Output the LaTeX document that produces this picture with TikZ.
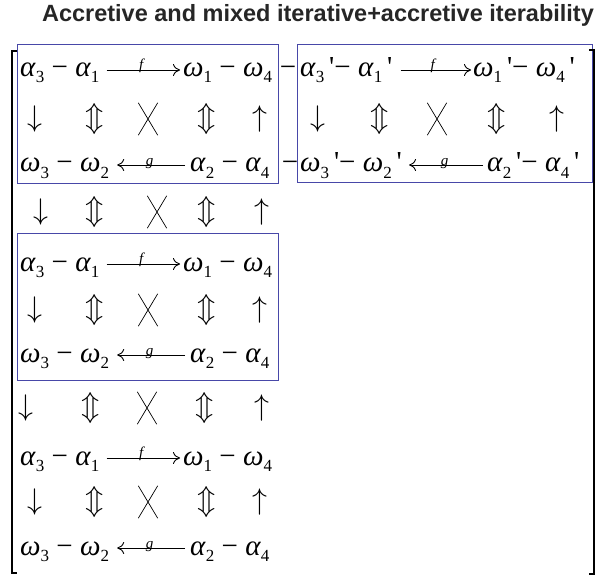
\documentclass[tikz,border=0pt]{standalone}
\usepackage{fontspec}
\usetikzlibrary{arrows.meta}
\newfontfamily\eqfont{Liberation Serif}
\newfontfamily\headfont{Liberation Sans}
\definecolor{boxblue}{RGB}{72,72,168}
\newcommand{\gs}[2]{\textit{#1}\raisebox{-6pt}{\fontsize{17}{17}\selectfont #2}}
\newcommand{\pr}{\,\textquotesingle}

\begin{document}
\begin{tikzpicture}[x=1pt,y=-1pt,
  every node/.style={inner sep=0pt},
  eq/.style={font=\eqfont\fontsize{29}{29}\selectfont,anchor=base west,text height=18pt,text depth=4pt},
  joiner/.style={font=\eqfont\fontsize{29}{29}\selectfont,anchor=base},
  sym/.style={font=\fontsize{24.88}{26}\selectfont,scale=1.2},
  lbl/.style={font=\eqfont\itshape\fontsize{15}{15}\selectfont},
  cross/.style={minimum width=19pt,minimum height=32pt},
  arr/.style={-{To[length=7pt,width=12pt]},line width=0.9pt},
  box/.style={draw=boxblue,line width=0.8pt},
  brk/.style={line width=2pt}
]
\useasboundingbox (0,0) rectangle (595,575);
\node[font=\headfont\bfseries\fontsize{23.5}{23.5}\selectfont,text=black!85,anchor=base] (title) at (318,22) {Accretive and mixed iterative+accretive iterability};

% the three unprimed blocks on the left
\foreach \b/\ya/\ys/\yw in {1/77/119/172, 3/271/310/362, 4/465/502/555} {
  \node[eq] (al\b) at (20,\ya) {\gs{α}{3} − \gs{α}{1}};
  \node[eq] (wr\b) at (183,\ya) {\gs{ω}{1} − \gs{ω}{4}};
  \node[eq] (wl\b) at (20,\yw) {\gs{ω}{3} − \gs{ω}{2}};
  \node[eq] (ar\b) at (190,\yw) {\gs{α}{2} − \gs{α}{4}};
  \draw[arr,shorten <=7pt,shorten >=3pt] (al\b) -- node[lbl,above=-3pt] {f} (wr\b);
  \draw[arr,shorten <=5pt,shorten >=8pt] (ar\b) -- node[lbl,above=-4pt] {g} (wl\b);
  \node[sym] (dn\b) at (35,\ys) {$\downarrow$};
  \node[sym] (udl\b) at (95,\ys) {$\Updownarrow$};
  \node[cross] (x\b) at (148,\ys) {};
  \node[sym] (udr\b) at (207,\ys) {$\Updownarrow$};
  \node[sym] (up\b) at (260,\ys) {$\uparrow$};
  \draw[line width=0.7pt] (x\b.north west) -- (x\b.south east) (x\b.south west) -- (x\b.north east);
}

% the primed block
\node[eq] (al2) at (300,77) {\gs{α}{3}\pr− \gs{α}{1}\pr};
\node[eq] (wr2) at (473,77) {\gs{ω}{1}\pr− \gs{ω}{4}\pr};
\node[eq] (wl2) at (300,172) {\gs{ω}{3}\pr− \gs{ω}{2}\pr};
\node[eq] (ar2) at (487,172) {\gs{α}{2}\pr− \gs{α}{4}\pr};
\draw[arr,shorten <=8pt,shorten >=2pt] (al2) -- node[lbl,above=-3pt] {f} (wr2);
\draw[arr,shorten <=4pt,shorten >=7pt] (ar2) -- node[lbl,above=-4pt] {g} (wl2);
\node[sym] (dn2) at (318,119) {$\downarrow$};
\node[sym] (udl2) at (380,119) {$\Updownarrow$};
\node[cross] (x2) at (437,119) {};
\node[sym] (udr2) at (497,119) {$\Updownarrow$};
\node[sym] (up2) at (557,119) {$\uparrow$};
\draw[line width=0.7pt] (x2.north west) -- (x2.south east) (x2.south west) -- (x2.north east);
\node[joiner] (ja) at (288,77) {−};
\node[joiner] (jw) at (290,172) {−};

% rows between the blocks
\node[sym] (dnm) at (41,212) {$\downarrow$};
\node[sym] (udlm) at (95,212) {$\Updownarrow$};
\node[cross] (xm) at (157,212) {};
\node[sym] (udrm) at (207,212) {$\Updownarrow$};
\node[sym] (upm) at (262,212) {$\uparrow$};
\draw[line width=0.7pt] (xm.north west) -- (xm.south east) (xm.south west) -- (xm.north east);
\node[sym] (dnn) at (26,408) {$\downarrow$};
\node[sym] (udln) at (91,408) {$\Updownarrow$};
\node[cross] (xn) at (147,408) {};
\node[sym] (udrn) at (205,408) {$\Updownarrow$};
\node[sym] (upn) at (262,408) {$\uparrow$};
\draw[line width=0.7pt] (xn.north west) -- (xn.south east) (xn.south west) -- (xn.north east);

\draw[box] (17,44) rectangle (278,183);
\draw[box] (297,44) rectangle (592,182);
\draw[box] (17,233) rectangle (278,380);
\draw[brk] (17,51) -- (12,51) -- (12,573) -- (17,573);
\draw[brk] (589,50) -- (594,50) -- (594,574) -- (589,574);
\end{tikzpicture}
\end{document}
